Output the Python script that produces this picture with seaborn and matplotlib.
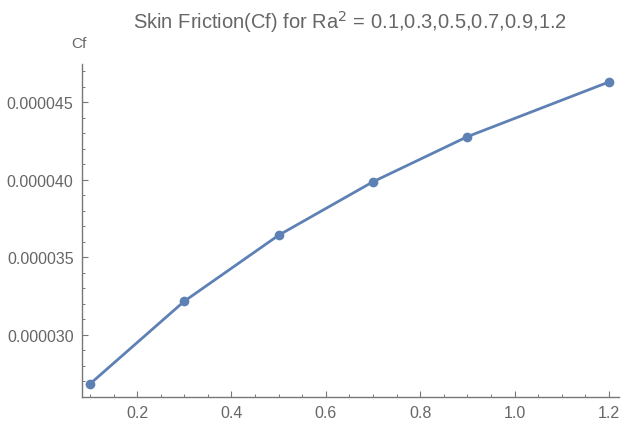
import matplotlib
matplotlib.use('Agg')
import matplotlib.pyplot as plt
import matplotlib.ticker as mticker
import seaborn as sns
import pandas as pd

# Data
ra2 = [0.1, 0.3, 0.5, 0.7, 0.9, 1.2]
cf = [2.682e-5, 3.216e-5, 3.642e-5, 3.987e-5, 4.278e-5, 4.631e-5]

df = pd.DataFrame({"Ra2": ra2, "Cf": cf})

sns.set_theme(style="ticks")
plt.rcParams['font.family'] = ['Liberation Sans', 'DejaVu Sans']

line_col = '#5E81B5'
text_col = '#666666'
axis_col = '#777777'

fig = plt.figure(figsize=(6.4, 4.39), dpi=100)
ax = fig.add_axes([0.128, 0.0934, 0.839, 0.7586])

sns.lineplot(data=df, x="Ra2", y="Cf", ax=ax, color=line_col, linewidth=2.0,
             marker='o', markersize=7, markeredgewidth=0, markerfacecolor=line_col)

ax.set_xlim(0.083, 1.221)
ax.set_ylim(2.598e-5, 4.747e-5)

ax.xaxis.set_major_locator(mticker.MultipleLocator(0.2))
ax.xaxis.set_minor_locator(mticker.MultipleLocator(0.05))
ax.yaxis.set_major_locator(mticker.MultipleLocator(5e-6))
ax.yaxis.set_minor_locator(mticker.MultipleLocator(1e-6))
ax.xaxis.set_major_formatter(mticker.FormatStrFormatter('%.1f'))
ax.yaxis.set_major_formatter(mticker.FormatStrFormatter('%.6f'))

ax.tick_params(which='major', direction='in', length=4.5, width=0.8,
               color=axis_col, labelcolor=text_col, labelsize=11.5, pad=6)
ax.tick_params(which='minor', direction='in', length=2.5, width=0.7, color=axis_col)

for s in ['top', 'right']:
    ax.spines[s].set_visible(False)
for s in ['left', 'bottom']:
    ax.spines[s].set_color(axis_col)
    ax.spines[s].set_linewidth(1.0)

ax.set_xlabel('')
ax.set_ylabel('')

fig.text(350 / 640, 1 - 22 / 439, r'Skin Friction(Cf) for Ra$^{2}$ = 0.1,0.3,0.5,0.7,0.9,1.2',
         ha='center', va='center', fontsize=14.5, color=text_col)
fig.text(79 / 640, 1 - 44 / 439, 'Cf', ha='center', va='center', fontsize=11, color=text_col)

fig.savefig('out.png', dpi=100, facecolor='white')
